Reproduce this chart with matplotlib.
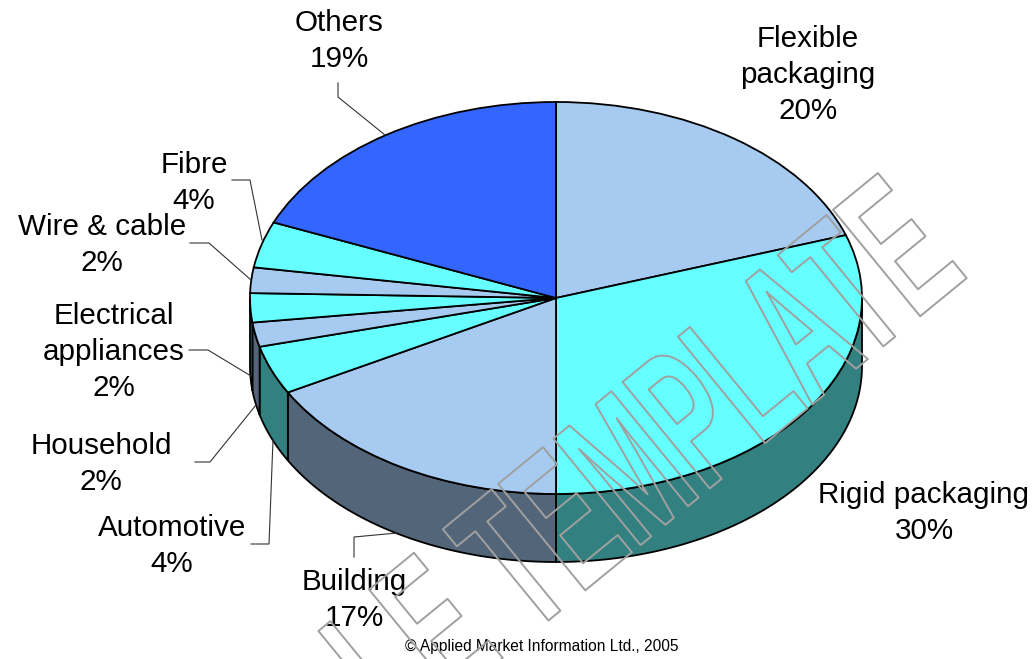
import matplotlib
matplotlib.use('Agg')
import matplotlib.pyplot as plt
import matplotlib.patheffects as pe
from matplotlib.patches import Polygon
from matplotlib.transforms import Affine2D
import numpy as np

plt.rcParams['font.family'] = ['Liberation Sans', 'DejaVu Sans']

# Shares, clockwise from 12 o'clock
names = ['Flexible\npackaging', 'Rigid packaging', 'Building', 'Automotive', 'Household',
         'Electrical\nappliances', 'Wire & cable', 'Fibre', 'Others']
shares = [19.8, 30.2, 17, 4, 2, 2.4, 2.1, 3.8, 18.7]
percent_labels = [20, 30, 17, 4, 2, 2, 2, 4, 19]
top_colours = ['#A6CAF0', '#66FFFF', '#A6CAF0', '#66FFFF', '#A6CAF0', '#66FFFF', '#A6CAF0', '#66FFFF', '#3366FF']
wall_colours = ['#536578', '#338080', '#536578', '#338080', '#536578', '#338080', '#536578', '#338080', '#1A3380']

# label centres, pixels
label_x = [808, 924, 354, 172, 101, 114, 102, 194, 339]
label_y = [75, 513, 600, 546, 464, 352, 245, 183, 41]

# leader lines, pixels
leader_x = [None, None, [354, 354, 397], [251, 269, 273], [195, 210, 256], [189, 208, 251], [190, 209, 251], [232, 250, 262], [338, 338, 385]]
leader_y = [None, None, [557, 537, 533], [544, 544, 440], [462, 462, 405], [350, 350, 376], [243, 243, 280], [180, 180, 240], [83, 97, 135]]

W, H = 1034, 659
cx, cy, rx, ry = 556, 298, 306, 196
depth = 68 / ry

fig = plt.figure(figsize=(W / 100, H / 100), dpi=100)
ax = fig.add_axes([0, 0, 1, 1])

# side walls first, only the front half of the disc shows them
edges = np.concatenate([[0], np.cumsum(shares)]) / np.sum(shares) * 360
for i in range(len(shares)):
    a = max(edges[i], 90)
    b = min(edges[i + 1], 270)
    if b <= a:
        continue
    t = np.radians(np.linspace(a, b, 80))
    xs = np.sin(t)
    ys = np.cos(t)
    pts = np.column_stack([np.r_[xs, xs[::-1]], np.r_[ys, ys[::-1] - depth]])
    ax.add_patch(Polygon(pts, closed=True, facecolor=wall_colours[i], edgecolor='black', linewidth=1.3))

ax.pie(shares, colors=top_colours, startangle=90, counterclock=False, radius=1,
       wedgeprops={'edgecolor': 'black', 'linewidth': 1.3})
ax.set_aspect('auto')
ax.set_xlim(-cx / rx, (W - cx) / rx)
ax.set_ylim((cy - H) / ry, cy / ry)
ax.axis('off')

# overlay in pixel coordinates for the labels and leaders
ov = fig.add_axes([0, 0, 1, 1], facecolor='none')
ov.set_xlim(0, W)
ov.set_ylim(H, 0)
ov.axis('off')

for i in range(len(names)):
    if leader_x[i] is not None:
        ov.plot(leader_x[i], leader_y[i], color='#333333', linewidth=0.8)
    ov.text(label_x[i], label_y[i], names[i] + '\n' + str(percent_labels[i]) + '%', ha='center', va='center',
            fontsize=21.3, linespacing=1.38, color='black')

ov.text(541.5, 647, '\u00a9 Applied Market Information Ltd., 2005', ha='center', va='center', fontsize=11.2, color='black')


# WordArt style watermark, squeezed along its baseline and only outlined
class SqueezedOutline(pe.AbstractPathEffect):
    def __init__(self, squeeze, angle, colour, width):
        super().__init__()
        self.squeeze = squeeze
        self.angle = angle
        self.colour = colour
        self.width = width

    def draw_path(self, renderer, gc, tpath, affine, rgbFace=None):
        m = affine.get_matrix()
        tx, ty = m[0, 2], m[1, 2]
        squeezed = affine + Affine2D().translate(-tx, -ty).rotate_deg(-self.angle).scale(self.squeeze, 1).rotate_deg(self.angle).translate(tx, ty)
        gc0 = renderer.new_gc()
        gc0.copy_properties(gc)
        gc0.set_linewidth(self.width)
        gc0.set_foreground(self.colour)
        renderer.draw_path(gc0, tpath, squeezed, None)
        gc0.restore()


wm = ov.text(400, 742, 'LE TEMPLATE', ha='left', va='baseline', rotation=39.3, rotation_mode='anchor',
             fontsize=144, fontweight='bold', color='#A0A0A0', clip_on=False)
wm.set_path_effects([SqueezedOutline(0.536, 39.3, '#A0A0A0', 1.4)])

fig.savefig('out.png', dpi=100)
